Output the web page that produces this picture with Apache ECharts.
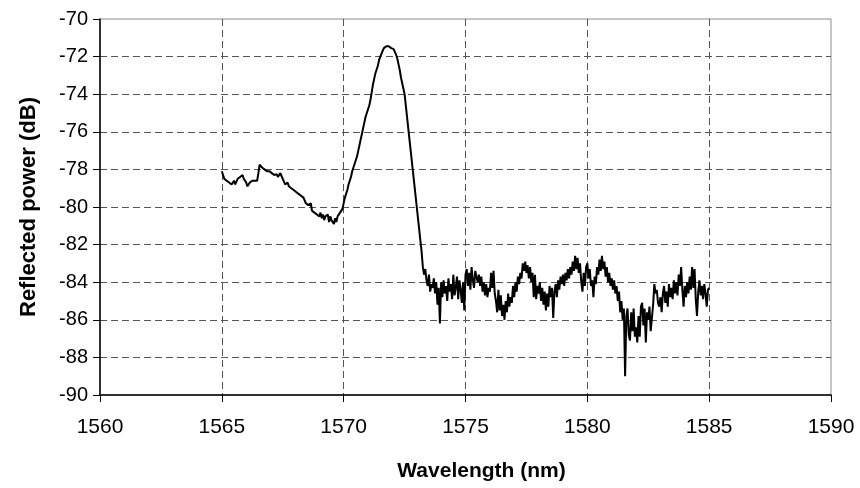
<!DOCTYPE html>
<html>
<head>
<meta charset="utf-8">
<script src="https://cdn.jsdelivr.net/npm/echarts@6/dist/echarts.min.js"></script>
<style>
  html, body { margin: 0; padding: 0; background: #fff; }
  #chart { width: 860px; height: 488px; }
</style>
</head>
<body>
<div id="chart"></div>
<script>
// sampling grid of the trace (nm)
const waveStart = 1565;
const waveStep = 0.05;

// reflected power (dB), one row per nm, 20 samples each
const power1565 = [-78.1, -78.3, -78.5, -78.4, -78.6, -78.5, -78.7, -78.6, -78.8, -78.7, -78.6, -78.8, -78.7, -78.5, -78.6, -78.4, -78.5, -78.3, -78.5, -78.6];
const power1566 = [-78.7, -78.9, -78.8, -78.7, -78.8, -78.6, -78.7, -78.6, -78.5, -78.6, -78.2, -77.75, -77.8, -77.9, -77.85, -78.0, -77.95, -78.1, -78.0, -78.1];
const power1567 = [-78.1, -78.2, -78.15, -78.3, -78.2, -78.25, -78.4, -78.3, -78.2, -78.35, -78.5, -78.6, -78.8, -78.9, -78.7, -78.9, -78.8, -79.0, -78.9, -79.1];
const power1568 = [-79.0, -79.2, -79.1, -79.3, -79.2, -79.4, -79.3, -79.5, -79.6, -79.8, -79.7, -79.9, -80.0, -79.8, -80.2, -80.1, -80.3, -80.2, -80.4, -80.3];
const power1569 = [-80.5, -80.3, -80.6, -80.4, -80.7, -80.5, -80.6, -80.4, -80.8, -80.5, -80.7, -80.6, -80.9, -80.6, -80.8, -80.5, -80.6, -80.3, -80.4, -80.1];
const power1570 = [-80.2, -79.5, -79.3, -79.1, -78.8, -78.7, -78.4, -78.1, -77.9, -77.7, -77.5, -77.3, -77.0, -76.7, -76.4, -76.1, -75.8, -75.5, -75.2, -75.0];
const power1571 = [-74.8, -74.6, -74.3, -73.9, -73.5, -73.2, -72.9, -72.7, -72.5, -72.2, -72.0, -71.85, -71.7, -71.55, -71.5, -71.45, -71.45, -71.45, -71.5, -71.55];
const power1572 = [-71.55, -71.6, -71.75, -71.9, -72.1, -72.4, -72.7, -73.1, -73.4, -73.7, -74.0, -74.6, -75.2, -75.8, -76.4, -77.0, -77.6, -78.2, -78.8, -79.4];
const power1573 = [-80.0, -80.6, -81.2, -81.8, -82.4, -83.2, -83.6, -83.3, -83.9, -84.2, -83.6, -84.5, -84.1, -84.3, -83.8, -84.6, -84.0, -85.2, -84.3, -86.2];
const power1574 = [-84.0, -84.8, -83.9, -84.6, -84.2, -85.0, -83.8, -84.5, -84.1, -84.9, -83.6, -84.7, -84.3, -83.7, -84.9, -83.9, -84.4, -85.1, -84.0, -85.5];
const power1575 = [-83.6, -83.3, -84.2, -83.5, -84.4, -83.2, -83.9, -84.3, -83.4, -83.3, -84.0, -83.6, -84.2, -83.7, -84.5, -84.0, -84.7, -84.1, -84.8, -84.3];
const power1576 = [-84.5, -83.5, -84.3, -83.4, -84.6, -85.0, -85.6, -84.4, -85.5, -84.7, -85.8, -85.2, -86.0, -85.0, -85.6, -84.6, -85.3, -84.8, -85.1, -84.2];
const power1577 = [-84.8, -84.0, -84.5, -83.7, -84.1, -83.5, -83.8, -83.0, -83.4, -82.9, -83.5, -83.1, -83.8, -83.2, -84.0, -83.5, -84.8, -83.6, -84.9, -84.2];
const power1578 = [-84.6, -84.0, -85.0, -84.3, -85.2, -84.5, -85.5, -84.6, -85.3, -84.2, -84.8, -84.3, -85.9, -84.5, -84.1, -84.8, -83.9, -84.4, -83.7, -84.1];
const power1579 = [-83.6, -84.2, -83.5, -83.9, -83.3, -83.8, -83.2, -83.6, -82.9, -83.4, -82.6, -83.3, -82.7, -83.5, -83.0, -84.0, -84.5, -83.5, -84.2, -83.2];
const power1580 = [-83.0, -83.8, -83.3, -84.2, -83.9, -84.8, -83.7, -84.1, -83.2, -83.6, -82.8, -83.4, -82.6, -83.3, -82.9, -83.7, -83.2, -84.0, -83.5, -84.2];
const power1581 = [-83.8, -84.4, -83.9, -84.6, -84.2, -85.0, -84.5, -85.6, -85.0, -86.0, -85.4, -89.0, -85.8, -85.4, -86.8, -87.1, -85.6, -86.6, -85.4, -86.9];
const power1582 = [-86.4, -87.2, -85.8, -86.9, -85.3, -85.1, -86.3, -85.4, -87.2, -85.6, -86.0, -85.3, -86.6, -86.7, -85.2, -84.1, -84.6, -84.4, -85.1, -85.3];
const power1583 = [-84.8, -85.6, -84.6, -84.2, -85.1, -84.5, -85.3, -84.1, -84.8, -84.3, -84.9, -83.9, -84.6, -84.0, -84.7, -83.6, -84.2, -83.2, -84.4, -85.3];
const power1584 = [-84.2, -84.8, -84.0, -84.6, -83.7, -84.4, -83.2, -84.3, -83.3, -84.9, -85.8, -84.5, -83.9, -84.7, -84.2, -84.9, -84.1, -84.6, -85.3, -84.4];
const power1585 = [-84.3];

const yTicks = [-90, -88, -86, -84, -82, -80, -78, -76, -74, -72, -70];
const xTicks = [1560, 1565, 1570, 1575, 1580, 1585, 1590];

const power = [].concat(power1565, power1566, power1567, power1568, power1569,
  power1570, power1571, power1572, power1573, power1574, power1575, power1576,
  power1577, power1578, power1579, power1580, power1581, power1582, power1583,
  power1584, power1585);
const trace = power.map((v, i) => [+(waveStart + i * waveStep).toFixed(2), v]);

const font = "'Liberation Sans', Arial, sans-serif";
const gridDash = { color: "#555", type: [7, 4], width: 1 };

const myChart = echarts.init(document.getElementById("chart"));
myChart.setOption({
  animation: false,
  grid: {
    left: 100,
    right: 29,
    top: 19,
    bottom: 93,
    show: true,
    borderColor: "#8c8c8c",
    borderWidth: 1,
  },
  xAxis: {
    type: "value",
    min: xTicks[0],
    max: xTicks[xTicks.length - 1],
    interval: 5,
    name: "Wavelength (nm)",
    nameLocation: "middle",
    nameGap: 66,
    nameTextStyle: { fontFamily: font, fontSize: 21, fontWeight: "bold", color: "#000", padding: [0, 0, 0, 32] },
    axisLine: { lineStyle: { color: "#000", width: 1.5 } },
    axisTick: { show: true, inside: false, length: 7, lineStyle: { color: "#000" } },
    axisLabel: { fontFamily: font, fontSize: 21, color: "#000", margin: 22, formatter: (v) => String(v) },
    splitLine: { show: true, showMinLine: false, showMaxLine: false, lineStyle: gridDash },
  },
  yAxis: {
    type: "value",
    min: yTicks[0],
    max: yTicks[yTicks.length - 1],
    interval: 2,
    name: "Reflected power (dB)",
    nameLocation: "middle",
    nameGap: 60,
    nameTextStyle: { fontFamily: font, fontSize: 22, fontWeight: "bold", color: "#000" },
    axisLine: { show: true, lineStyle: { color: "#000", width: 1.5 } },
    axisTick: { show: true, inside: false, length: 7, lineStyle: { color: "#000" } },
    axisLabel: { fontFamily: font, fontSize: 20, color: "#000", margin: 12, formatter: (v) => String(v) },
    splitLine: { show: true, showMinLine: false, showMaxLine: false, lineStyle: gridDash },
  },
  series: [
    {
      type: "line",
      data: trace,
      showSymbol: false,
      lineStyle: { color: "#000", width: 2 },
    },
  ],
});
</script>
</body>
</html>
